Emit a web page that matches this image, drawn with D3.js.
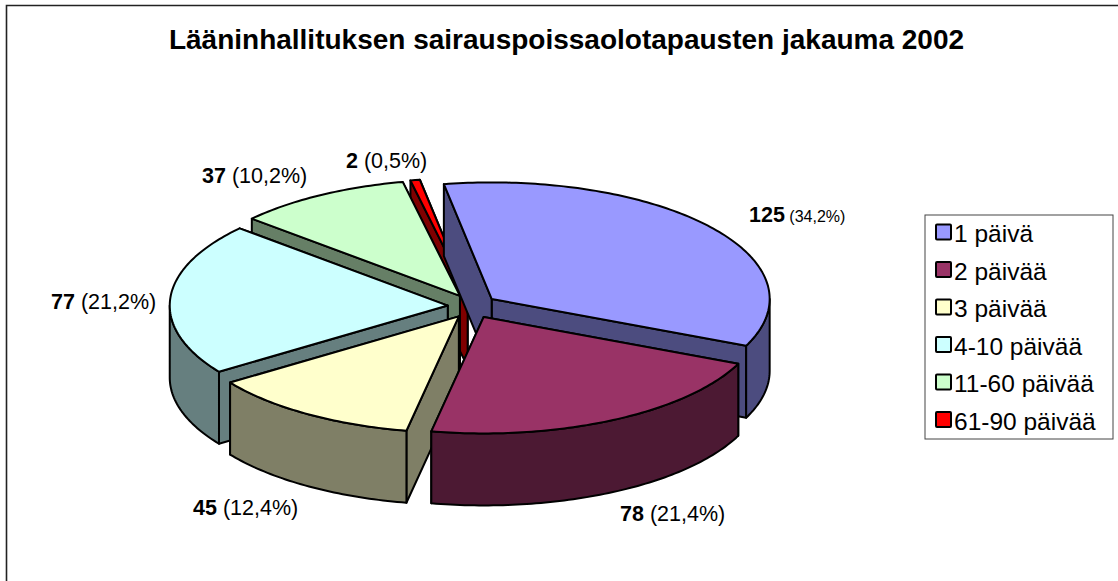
<!DOCTYPE html>
<html>
<head>
<meta charset="utf-8">
<style>
  html, body { margin: 0; padding: 0; background: #fff; }
  svg { display: block; }
  text { font-family: "Liberation Sans", Arial, sans-serif; fill: #000; }
</style>
</head>
<body>
<div class="chart"></div>
<script src="https://cdn.jsdelivr.net/npm/d3@7"></script>
<script>
var svgWidth = 1118;
var svgHeight = 581;

// chart data
var categories = ["1 päivä", "2 päivää", "3 päivää", "4-10 päivää", "11-60 päivää", "61-90 päivää"];
var values = [125, 78, 45, 77, 37, 2];
var percents = ["(34,2%)", "(21,4%)", "(12,4%)", "(21,2%)", "(10,2%)", "(0,5%)"];
var topColors = ["#9999ff", "#993366", "#ffffcc", "#ccffff", "#ccffcc", "#ff0000"];
var sideColors = ["#4c4c7f", "#4c1933", "#7f7f66", "#667f7f", "#667f66", "#7f0000"];

// pie layout
var cx = 472.3;
var cy = 306.3;
var rx = 278;
var ry = 116.5;
var explodeX = 24.6;
var explodeY = 12;
var depth = 72;
var startDeg = -9.9;

// label anchors, same order as categories: x, baseline y, size of the percent text
var labelPos = [
  [749, 222, 16],
  [620, 521, 21.5],
  [193, 515, 21.5],
  [51, 309, 21.5],
  [202, 183, 21.5],
  [346, 168, 21.5],
];

// the back slices have to be painted first
var paintOrder = [5, 4, 0, 3, 2, 1];

var svg = d3
  .select(".chart")
  .append("svg")
  .attr("width", svgWidth)
  .attr("height", svgHeight);

// chart frame, only top and left are inside the picture
svg
  .append("path")
  .attr("d", d3.line()([[6.5, svgHeight], [6.5, 5.5], [svgWidth, 5.5]]))
  .attr("fill", "none")
  .attr("stroke", "#222")
  .attr("stroke-width", 1.6);

svg
  .append("text")
  .attr("x", 566.5)
  .attr("y", 49)
  .attr("text-anchor", "middle")
  .style("font-size", "28px")
  .style("font-weight", "bold")
  .text("Lääninhallituksen sairauspoissaolotapausten jakauma 2002");

var pie = d3
  .pie()
  .sort(null)
  .value((d) => d)
  .startAngle((startDeg * Math.PI) / 180)
  .endAngle((startDeg * Math.PI) / 180 + 2 * Math.PI);

var slices = pie(values);

var xScale = d3.scaleLinear().domain([-1, 1]).range([-rx, rx]);
var yScale = d3.scaleLinear().domain([-1, 1]).range([-ry, ry]);
var line = d3.line();

// point on the rim of the ellipse
function rim(angle, centre, drop) {
  return [
    centre[0] + xScale(Math.sin(angle)),
    centre[1] - yScale(Math.cos(angle)) + drop,
  ];
}

function arcPoints(a0, a1, centre, drop) {
  var n = Math.max(2, Math.ceil(((a1 - a0) * 180) / Math.PI));
  return d3.range(n + 1).map((i) => rim(a0 + ((a1 - a0) * i) / n, centre, drop));
}

function radialFace(angle, centre) {
  var r = rim(angle, centre, 0);
  return [centre, r, [r[0], r[1] + depth], [centre[0], centre[1] + depth]];
}

var pieGroup = svg.append("g").attr("class", "pie");

function addFace(points, fill) {
  pieGroup
    .append("path")
    .attr("d", line(points) + "Z")
    .attr("fill", fill)
    .attr("stroke", "#000")
    .attr("stroke-width", 2)
    .attr("stroke-linejoin", "round");
}

paintOrder.forEach((i) => {
  var s = slices[i];
  var mid = (s.startAngle + s.endAngle) / 2;
  var centre = [cx + explodeX * Math.sin(mid), cy - explodeY * Math.cos(mid)];

  addFace(radialFace(s.endAngle, centre), sideColors[i]);
  addFace(radialFace(s.startAngle, centre), sideColors[i]);

  // outer wall, only the front half of the ellipse shows
  var a0 = Math.max(s.startAngle, Math.PI / 2);
  var a1 = Math.min(s.endAngle, (3 * Math.PI) / 2);
  if (a1 > a0) {
    var topEdge = arcPoints(a0, a1, centre, 0);
    var bottomEdge = arcPoints(a0, a1, centre, depth).reverse();
    addFace(topEdge.concat(bottomEdge), sideColors[i]);
  }

  addFace([centre].concat(arcPoints(s.startAngle, s.endAngle, centre, 0)), topColors[i]);
});

// data labels
categories.forEach((c, i) => {
  var label = svg
    .append("text")
    .attr("x", labelPos[i][0])
    .attr("y", labelPos[i][1])
    .style("font-size", "21.5px");
  label.append("tspan").style("font-weight", "bold").text(values[i]);
  label
    .append("tspan")
    .style("font-size", labelPos[i][2] + "px")
    .text(" " + percents[i]);
});

// legend
var legend = svg.append("g").attr("class", "legend");
var legendY = d3.scalePoint().domain(categories).range([232, 419.5]);

legend
  .append("rect")
  .attr("x", 925)
  .attr("y", 215)
  .attr("width", 188)
  .attr("height", 224)
  .attr("fill", "#fff")
  .attr("stroke", "#444")
  .attr("stroke-width", 1);

legend
  .selectAll("rect.swatch")
  .data(categories)
  .enter()
  .append("rect")
  .attr("class", "swatch")
  .attr("x", 936)
  .attr("y", (d) => legendY(d) - 7.5)
  .attr("width", 15)
  .attr("height", 15)
  .attr("rx", 1)
  .attr("fill", (d, i) => topColors[i])
  .attr("stroke", "#000")
  .attr("stroke-width", 2);

legend
  .selectAll("text")
  .data(categories)
  .enter()
  .append("text")
  .attr("x", 954)
  .attr("y", (d) => legendY(d) + 10)
  .style("font-size", "24.5px")
  .text((d) => d);
</script>
</body>
</html>
